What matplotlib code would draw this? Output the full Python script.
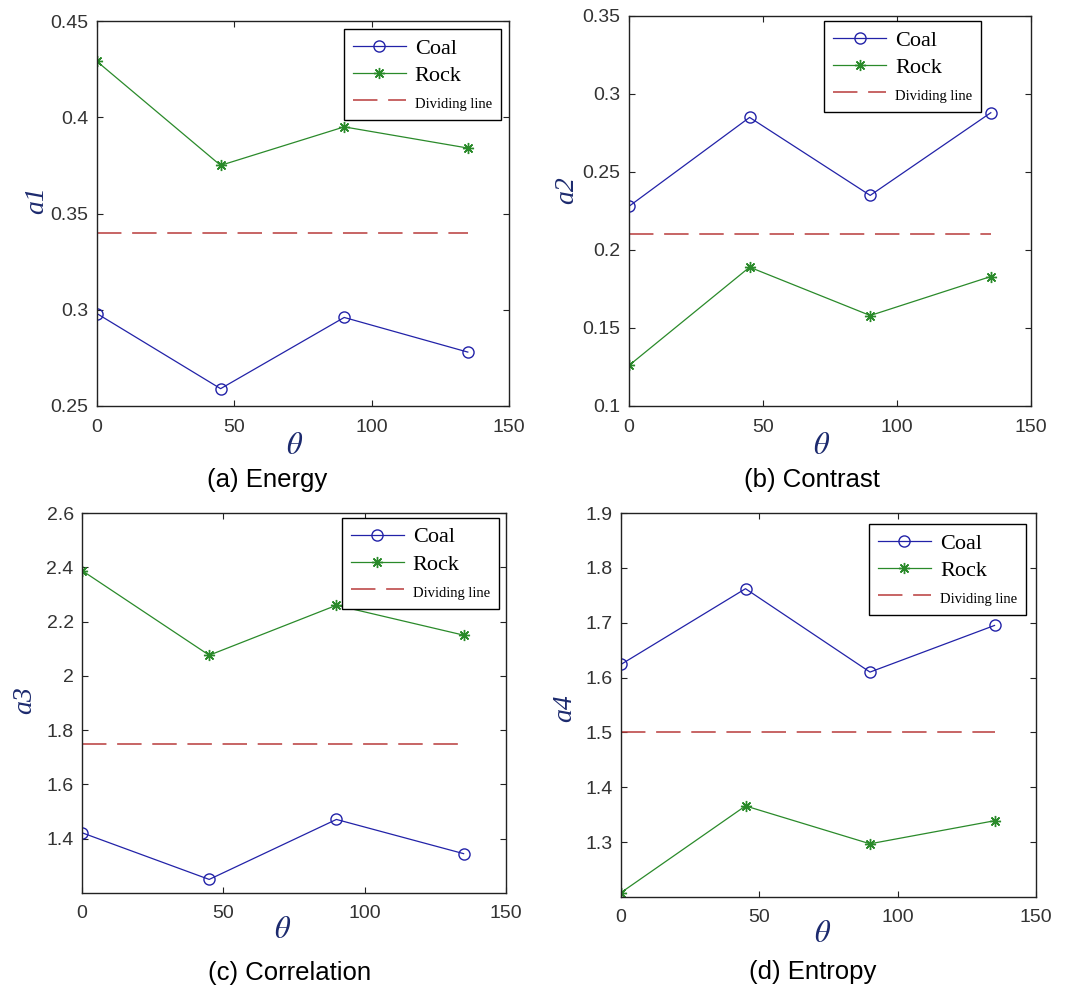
import numpy as np
import matplotlib.pyplot as plt

plt.rcParams['mathtext.fontset'] = 'stix'

# angle of the GLCM (degrees)
theta = [0, 45, 90, 135]

# (a) Energy
energy_coal = [0.298, 0.259, 0.296, 0.278]
energy_rock = [0.429, 0.375, 0.395, 0.384]
energy_div = 0.34

# (b) Contrast
contrast_coal = [0.228, 0.285, 0.235, 0.288]
contrast_rock = [0.126, 0.189, 0.158, 0.183]
contrast_div = 0.21

# (c) Correlation
corr_coal = [1.422, 1.250, 1.471, 1.345]
corr_rock = [2.388, 2.076, 2.260, 2.150]
corr_div = 1.75

# (d) Entropy
entropy_coal = [1.624, 1.762, 1.610, 1.695]
entropy_rock = [1.208, 1.366, 1.297, 1.339]
entropy_div = 1.5

W, H = 1065, 992
fig = plt.figure(figsize=(W / 100, H / 100), dpi=100)

def px(x0, y0, x1, y1):
    # pixel box -> figure fraction rect
    return [x0 / W, 1 - y1 / H, (x1 - x0) / W, (y1 - y0) / H]

panels = [
    dict(rect=px(97, 21, 509, 406), coal=energy_coal, rock=energy_rock, div=energy_div,
         ylim=(0.25, 0.45), yticks=[0.25, 0.3, 0.35, 0.4, 0.45], ylab='a1',
         leg=(0.98, 0.979), ylab_xy=(37, 200), xlab_xy=(295, 445),
         cap='(a) Energy', cap_xy=(267, 480)),
    dict(rect=px(629, 16, 1031, 406), coal=contrast_coal, rock=contrast_rock, div=contrast_div,
         ylim=(0.1, 0.35), yticks=[0.1, 0.15, 0.2, 0.25, 0.3, 0.35], ylab='a2',
         leg=(0.876, 0.987), ylab_xy=(567, 190), xlab_xy=(822, 445),
         cap='(b) Contrast', cap_xy=(812, 480)),
    dict(rect=px(82, 513, 506, 893), coal=corr_coal, rock=corr_rock, div=corr_div,
         ylim=(1.2, 2.6), yticks=[1.4, 1.6, 1.8, 2.0, 2.2, 2.4, 2.6], ylab='a3',
         leg=(0.983, 0.987), ylab_xy=(25, 700), xlab_xy=(283, 930),
         cap='(c) Correlation', cap_xy=(290, 973)),
    dict(rect=px(621, 513, 1036, 897), coal=entropy_coal, rock=entropy_rock, div=entropy_div,
         ylim=(1.2, 1.9), yticks=[1.3, 1.4, 1.5, 1.6, 1.7, 1.8, 1.9], ylab='a4',
         leg=(0.976, 0.971), ylab_xy=(565, 708), xlab_xy=(823, 933),
         cap='(d) Entropy', cap_xy=(813, 972)),
]

blue = '#2222a8'
green = '#2a8a2a'
red = '#b83a3a'
navy = '#1c2a6e'
asterisk = (8, 2, 0)

for p in panels:
    ax = fig.add_axes(p['rect'])
    ax.plot(theta, p['coal'], color=blue, lw=0.9, marker='o', ms=8,
            mfc='none', mec=blue, mew=1.0, label='Coal')
    ax.plot(theta, p['rock'], color=green, lw=0.9, marker=asterisk, ms=8,
            mec=green, mew=1.0, label='Rock')
    ax.plot([theta[0], theta[-1]], [p['div'], p['div']], color=red, lw=1.1,
            dashes=(16, 7), label='Dividing line')

    ax.set_xlim(0, 150)
    ax.set_xticks([0, 50, 100, 150])
    ax.set_ylim(*p['ylim'])
    ax.set_yticks(p['yticks'])
    ax.set_yticklabels([f'{v:g}' for v in p['yticks']])
    ax.tick_params(direction='in', length=4, width=0.8, top=True, right=True,
                   labelsize=14, labelcolor='#333333', colors='#222222', pad=6)
    ax.tick_params(axis='x', pad=9)
    for lbl in ax.get_xticklabels() + ax.get_yticklabels():
        lbl.set_family('Liberation Sans')
    for s in ax.spines.values():
        s.set_color('#222222')
        s.set_linewidth(1.0)

    leg = ax.legend(loc='upper right', bbox_to_anchor=p['leg'], borderaxespad=0,
                    prop={'family': 'Liberation Serif', 'size': 16},
                    fancybox=False, framealpha=1, edgecolor='black',
                    handlelength=2.4, handletextpad=0.4, labelspacing=0.3,
                    borderpad=0.4)
    leg.get_frame().set_linewidth(1.0)
    leg.get_texts()[2].set_fontsize(10.5)

    fig.text(p['ylab_xy'][0] / W, 1 - p['ylab_xy'][1] / H, p['ylab'],
             family='Liberation Serif', style='italic', size=20, color=navy,
             rotation=90, ha='center', va='center')
    fig.text(p['xlab_xy'][0] / W, 1 - p['xlab_xy'][1] / H, r'$\theta$',
             size=22, color=navy, ha='center', va='center')
    fig.text(p['cap_xy'][0] / W, 1 - p['cap_xy'][1] / H, p['cap'],
             family='Liberation Sans', size=18.5, color='black',
             ha='center', va='center')

fig.savefig('out.png', dpi=100)
